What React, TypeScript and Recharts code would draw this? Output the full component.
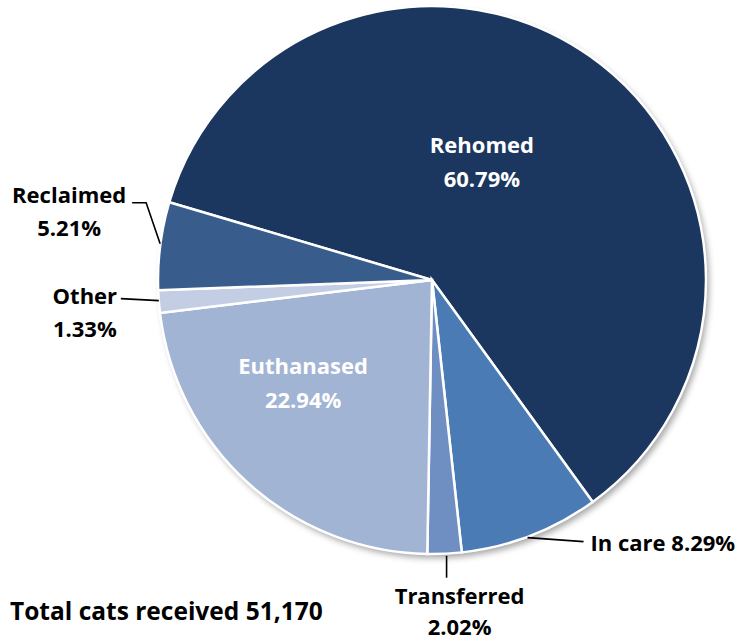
import React from "react";
import { PieChart, Pie, Cell } from "recharts";

const categories = ["Rehomed", "In care", "Transferred", "Euthanased", "Other", "Reclaimed"];
const shares = [60.79, 8.29, 2.02, 22.94, 1.33, 5.21];
const totalReceived = "51,170";

const colors = ["#1b375f", "#4a7bb5", "#6f8fc3", "#a2b4d4", "#c3cee4", "#385d8c"];

const chartData = categories.map((name, i) => ({ name, value: shares[i] }));

const RADIAN = Math.PI / 180;
const FONT = "'Open Sans', sans-serif";

// where each label sits, relative to its slice
type Placement =
  | { kind: "inside"; turn: number; r: number }
  | {
      kind: "outside";
      path: [number, number][];
      text: [number, number];
      anchor: "start" | "middle" | "end";
      oneLine?: boolean;
      gap?: number;
    };

const placements: Placement[] = [
  { kind: "inside", turn: 12.5, r: 0.47 },
  { kind: "outside", path: [[-3, 2], [53, 6]], text: [60, 6], anchor: "start", oneLine: true },
  { kind: "outside", path: [[2, 2], [2, 24]], text: [15, 41], anchor: "middle", gap: 31 },
  { kind: "inside", turn: -9.6, r: 0.6 },
  { kind: "outside", path: [[0, -1], [-38, -3]], text: [-74, -7], anchor: "middle" },
  { kind: "outside", path: [[0, -2], [-14, -43], [-28, -43]], text: [-91, -52], anchor: "middle" },
];

const renderLabel = (props: any) => {
  const { cx, cy, midAngle, outerRadius, index, name, value } = props;
  const p = placements[index];
  const pct = `${value.toFixed(2)}%`;
  if (p.kind === "inside") {
    const a = -(midAngle + p.turn) * RADIAN;
    const x = cx + outerRadius * p.r * Math.cos(a);
    const y = cy + outerRadius * p.r * Math.sin(a);
    return (
      <text x={x} y={y} textAnchor="middle" fill="#ffffff" fontFamily={FONT} fontWeight={700} fontSize={22}>
        <tspan x={x} y={y - 17} dominantBaseline="central">{name}</tspan>
        <tspan x={x} y={y + 17} dominantBaseline="central">{pct}</tspan>
      </text>
    );
  }
  const a = -midAngle * RADIAN;
  const ex = cx + outerRadius * Math.cos(a);
  const ey = cy + outerRadius * Math.sin(a);
  const d = p.path.map(([dx, dy], i) => `${i === 0 ? "M" : "L"}${ex + dx},${ey + dy}`).join(" ");
  const tx = ex + p.text[0];
  const ty = ey + p.text[1];
  return (
    <g>
      <path d={d} stroke="#000000" strokeWidth={1.6} fill="none" />
      {p.oneLine ? (
        <text x={tx} y={ty} textAnchor={p.anchor} dominantBaseline="central" fill="#000000" fontFamily={FONT} fontWeight={700} fontSize={22}>
          {`${name} ${pct}`}
        </text>
      ) : (
        <text x={tx} y={ty} textAnchor={p.anchor} fill="#000000" fontFamily={FONT} fontWeight={700} fontSize={22}>
          <tspan x={tx} y={ty} dominantBaseline="central">{name}</tspan>
          <tspan x={tx} y={ty + (p.gap ?? 33)} dominantBaseline="central">{pct}</tspan>
        </text>
      )}
    </g>
  );
};

const App = () => {
  return (
    <div style={{ position: "absolute", left: 0, top: 0, width: 741, height: 642, background: "#ffffff" }}>
      <PieChart width={741} height={642} margin={{ top: 0, right: 0, bottom: 0, left: 0 }}>
        <defs>
          <filter id="pieShadow" x="-10%" y="-10%" width="130%" height="130%">
            <feDropShadow dx="3" dy="4" stdDeviation="3" floodColor="#000000" floodOpacity="0.35" />
          </filter>
        </defs>
        <Pie
          data={[{ name: "shadow", value: 1 }]}
          dataKey="value"
          cx={432}
          cy={280}
          outerRadius={274}
          stroke="none"
          isAnimationActive={false}
        >
          <Cell fill="#ffffff" filter="url(#pieShadow)" />
        </Pie>
        <Pie
          data={chartData}
          dataKey="value"
          nameKey="name"
          cx={432}
          cy={280}
          outerRadius={274}
          startAngle={163.5}
          endAngle={-196.5}
          stroke="#ffffff"
          strokeWidth={2.5}
          label={renderLabel}
          labelLine={false}
          isAnimationActive={false}
        >
          {chartData.map((entry, i) => (
            <Cell key={entry.name} fill={colors[i]} />
          ))}
        </Pie>
        <text x={10} y={610} dominantBaseline="central" fill="#000000" fontFamily={FONT} fontWeight={700} fontSize={24.5}>
          {`Total cats received ${totalReceived}`}
        </text>
      </PieChart>
    </div>
  );
};

export default App;
